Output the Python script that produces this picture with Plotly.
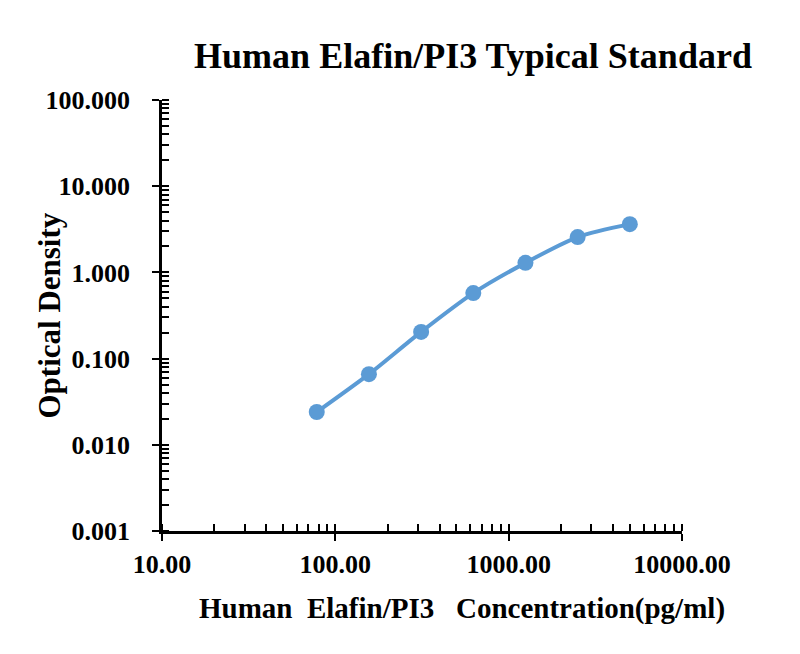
import plotly.graph_objects as go

# standard curve
conc = [78.125, 156.25, 312.5, 625, 1250, 2500, 5000]
od = [0.024, 0.066, 0.204, 0.575, 1.29, 2.57, 3.63]

y_ticks = [0.001, 0.01, 0.1, 1, 10, 100]
y_labels = ["0.001", "0.010", "0.100", "1.000", "10.000", "100.000"]
x_ticks = [10, 100, 1000, 10000]
x_labels = ["10.00", "100.00", "1000.00", "10000.00"]

serif = "Liberation Serif, Times New Roman, serif"
blue = "#5b9bd5"

fig = go.Figure()
fig.add_trace(go.Scatter(
    x=conc, y=od,
    mode="lines+markers",
    line=dict(color=blue, width=4, shape="spline", smoothing=0.8),
    marker=dict(color=blue, size=16),
    showlegend=False,
))

axis_common = dict(
    type="log",
    automargin=False,
    showgrid=False,
    zeroline=False,
    showline=True,
    linecolor="black",
    linewidth=2.5,
    ticks="outside",
    ticklen=7,
    tickwidth=2,
    tickcolor="black",
    tickfont=dict(family=serif, size=26, color="black", weight="bold"),
)
minor_ticks = dict(ticks="inside", ticklen=7, tickwidth=1.5, tickcolor="black",
                   dtick="D1", showgrid=False)

# the page body has an 8px margin, so the margins here are shifted by 8
fig.update_layout(
    width=800, height=654,
    paper_bgcolor="white",
    plot_bgcolor="white",
    margin=dict(l=154, r=126, t=92, b=131, autoexpand=False),
    title=dict(
        text="<b>Human Elafin/PI3 Typical Standard</b>",
        x=465 / 800, xanchor="center",
        y=1 - 47 / 654, yanchor="middle",
        font=dict(family=serif, size=36, color="black"),
    ),
    xaxis=dict(
        **axis_common,
        range=[1, 4],
        tickvals=x_ticks, ticktext=x_labels,
        ticklabelstandoff=1,
        minor=minor_ticks,
    ),
    yaxis=dict(
        **axis_common,
        range=[-3, 2],
        tickvals=y_ticks, ticktext=y_labels,
        ticklabelstandoff=17,
        minor=minor_ticks,
    ),
    # overlay axes: inner half of the crossing major ticks
    xaxis2=dict(type="log", range=[1, 4], overlaying="x", side="bottom",
                tickvals=x_ticks, showticklabels=False, ticks="inside",
                ticklen=7, tickwidth=2, tickcolor="black",
                showgrid=False, zeroline=False, showline=False),
    yaxis2=dict(type="log", range=[-3, 2], overlaying="y", side="left",
                tickvals=y_ticks, showticklabels=False, ticks="inside",
                ticklen=7, tickwidth=2, tickcolor="black",
                showgrid=False, zeroline=False, showline=False),
)

# axis titles as annotations (x title sits right of the plot centre)
fig.add_annotation(
    text="<b>Human  Elafin/PI3   Concentration(pg/ml)</b>",
    xref="paper", yref="paper", x=0.577, y=-0.1787,
    xanchor="center", yanchor="middle", showarrow=False,
    font=dict(family=serif, size=29, color="black"),
)
fig.add_annotation(
    text="<b>Optical Density</b>",
    xref="paper", yref="paper", x=-0.2154, y=0.5,
    xanchor="center", yanchor="middle", textangle=-90, showarrow=False,
    font=dict(family=serif, size=31, color="black"),
)

# invisible trace to make the overlay axes render
fig.add_trace(go.Scatter(x=[conc[0]], y=[od[0]], xaxis="x2", yaxis="y2",
                         mode="markers", marker=dict(opacity=0),
                         showlegend=False, hoverinfo="skip"))

fig.write_html("out.html")
